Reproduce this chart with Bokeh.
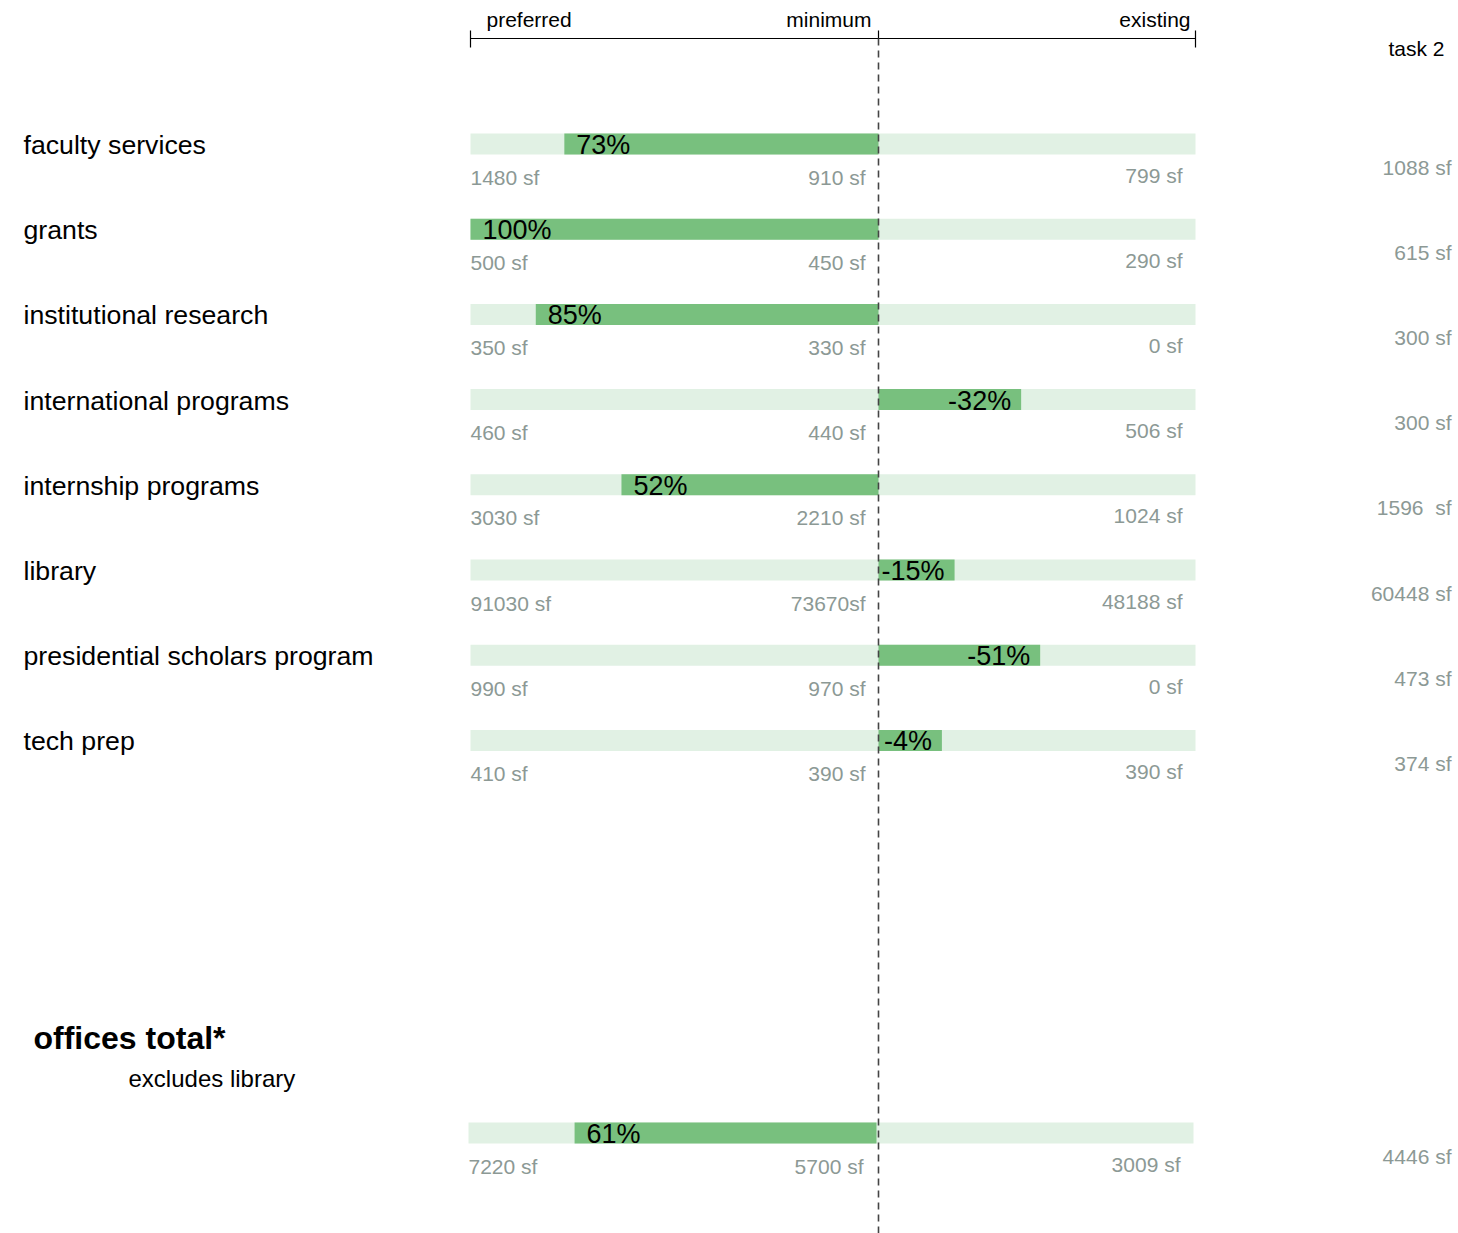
from bokeh.plotting import figure
from bokeh.models import Range1d
from bokeh.core.properties import value
from bokeh.embed import file_html
from bokeh.resources import INLINE

# ---------------- data ----------------
categories = ["faculty services", "grants", "institutional research", "international programs",
              "internship programs", "library", "presidential scholars program", "tech prep"]
pct_labels = [73, 100, 85, -32, 52, -15, -51, -4]
# drawn bar length as share of the half bar (positive = toward "preferred", negative = toward "existing")
bar_extent = [0.77, 1.00, 0.84, -0.45, 0.63, -0.24, -0.51, -0.20]
preferred_sf = ["1480 sf", "500 sf", "350 sf", "460 sf", "3030 sf", "91030 sf", "990 sf", "410 sf"]
minimum_sf = ["910 sf", "450 sf", "330 sf", "440 sf", "2210 sf", "73670sf", "970 sf", "390 sf"]
existing_sf = ["799 sf", "290 sf", "0 sf", "506 sf", "1024 sf", "48188 sf", "0 sf", "390 sf"]
task2_sf = ["1088 sf", "615 sf", "300 sf", "300 sf", "1596\u00a0 sf", "60448 sf", "473 sf", "374 sf"]

total_label = "offices total*"
total_note = "excludes library"
total_pct = 61
total_extent = 0.74
total_preferred = "7220 sf"
total_minimum = "5700 sf"
total_existing = "3009 sf"
total_task2 = "4446 sf"

header_labels = ["preferred", "minimum", "existing"]
column_title = "task 2"

# ---------------- layout / style ----------------
W, H = 1458, 1233
LEFT, CENTER, RIGHT = 470, 878, 1195
ROW0, STEP = 143.5, 85.2
TOTAL_Y, TOTAL_DX = 1132.5, -2
BAR_H = 21
LIGHT = "#e1f1e4"
DARK = "#78c07e"
GRAY = "#8c9995"
FONT = value("Liberation Sans")

p = figure(width=W, height=H, x_range=Range1d(0, W), y_range=Range1d(H, 0),
           output_backend="svg", toolbar_location=None, min_border=0,
           background_fill_color="white", border_fill_color="white")
p.axis.visible = False
p.grid.visible = False
p.outline_line_color = None


def bar_span(ext, dx=0):
    c = CENTER + dx
    if ext >= 0:
        return c - ext * (CENTER - LEFT), c
    return c, c - ext * (RIGHT - CENTER)


rows_y = [ROW0 + i * STEP for i in range(len(categories))]
all_y = rows_y + [TOTAL_Y]
all_dx = [0] * len(categories) + [TOTAL_DX]
all_ext = bar_extent + [total_extent]
all_pct = pct_labels + [total_pct]

# background bars
p.hbar(y=all_y, left=[LEFT + d for d in all_dx], right=[RIGHT + d for d in all_dx],
       height=BAR_H, fill_color=LIGHT, line_color=None)

# value bars
spans = [bar_span(e, d) for e, d in zip(all_ext, all_dx)]
p.hbar(y=all_y, left=[s[0] for s in spans], right=[s[1] for s in spans],
       height=BAR_H, fill_color=DARK, line_color=None)

# percent labels
pos_x, pos_y, pos_t, neg_x, neg_y, neg_t = [], [], [], [], [], []
for (l, r), y, pc in zip(spans, all_y, all_pct):
    if pc >= 0:
        pos_x.append(l + 12); pos_y.append(y + 1); pos_t.append(f"{pc}%")
    else:
        neg_x.append(r - 10); neg_y.append(y + 1); neg_t.append(f"{pc}%")
p.text(x=pos_x, y=pos_y, text=pos_t, text_font=FONT, text_font_size=value("27px"),
       text_color="black", text_align="left", text_baseline="middle")
p.text(x=neg_x, y=neg_y, text=neg_t, text_font=FONT, text_font_size=value("27px"),
       text_color="black", text_align="right", text_baseline="middle")

# category labels
p.text(x=[23] * len(categories), y=[y + 1 for y in rows_y], text=categories, text_font=FONT,
       text_font_size=value("26.7px"), text_color="black", text_align="left", text_baseline="middle")

# gray value labels
prefs = preferred_sf + [total_preferred]
mins = minimum_sf + [total_minimum]
exs = existing_sf + [total_existing]
t2 = task2_sf + [total_task2]
p.text(x=[LEFT + d for d in all_dx], y=[y + 33 for y in all_y], text=prefs, text_font=FONT,
       text_font_size=value("21px"), text_color=GRAY, text_align="left", text_baseline="middle")
p.text(x=[865 + d for d in all_dx], y=[y + 33 for y in all_y], text=mins, text_font=FONT,
       text_font_size=value("21px"), text_color=GRAY, text_align="right", text_baseline="middle")
p.text(x=[1182 + d for d in all_dx], y=[y + 31 for y in all_y], text=exs, text_font=FONT,
       text_font_size=value("21px"), text_color=GRAY, text_align="right", text_baseline="middle")
p.text(x=[1451] * len(all_y), y=[y + 23 for y in all_y], text=t2, text_font=FONT,
       text_font_size=value("21px"), text_color=GRAY, text_align="right", text_baseline="middle")

# header scale
p.segment(x0=[LEFT], y0=[38], x1=[RIGHT], y1=[38], line_color="black", line_width=1.2)
p.segment(x0=[LEFT, RIGHT, CENTER], y0=[30, 30, 30], x1=[LEFT, RIGHT, CENTER], y1=[47, 47, 38],
          line_color="black", line_width=1.2)
p.text(x=[486], y=[19], text=[header_labels[0]], text_font=FONT, text_font_size=value("21px"),
       text_color="black", text_align="left", text_baseline="middle")
p.text(x=[871, 1190], y=[19, 19], text=header_labels[1:], text_font=FONT,
       text_font_size=value("21px"), text_color="black", text_align="right", text_baseline="middle")
p.text(x=[1388], y=[48], text=[column_title], text_font=FONT, text_font_size=value("21px"),
       text_color="black", text_align="left", text_baseline="middle")

# center dashed line
p.segment(x0=[CENTER], y0=[38], x1=[CENTER], y1=[H], line_color="#444444",
          line_width=1.6, line_dash="7 5")

# total heading
p.text(x=[33], y=[1037], text=[total_label], text_font=FONT, text_font_size=value("32px"),
       text_font_style="bold", text_color="black", text_align="left", text_baseline="middle")
p.text(x=[128], y=[1078], text=[total_note], text_font=FONT, text_font_size=value("24px"),
       text_color="black", text_align="left", text_baseline="middle")

open("out.html", "w").write(file_html(p, INLINE))
